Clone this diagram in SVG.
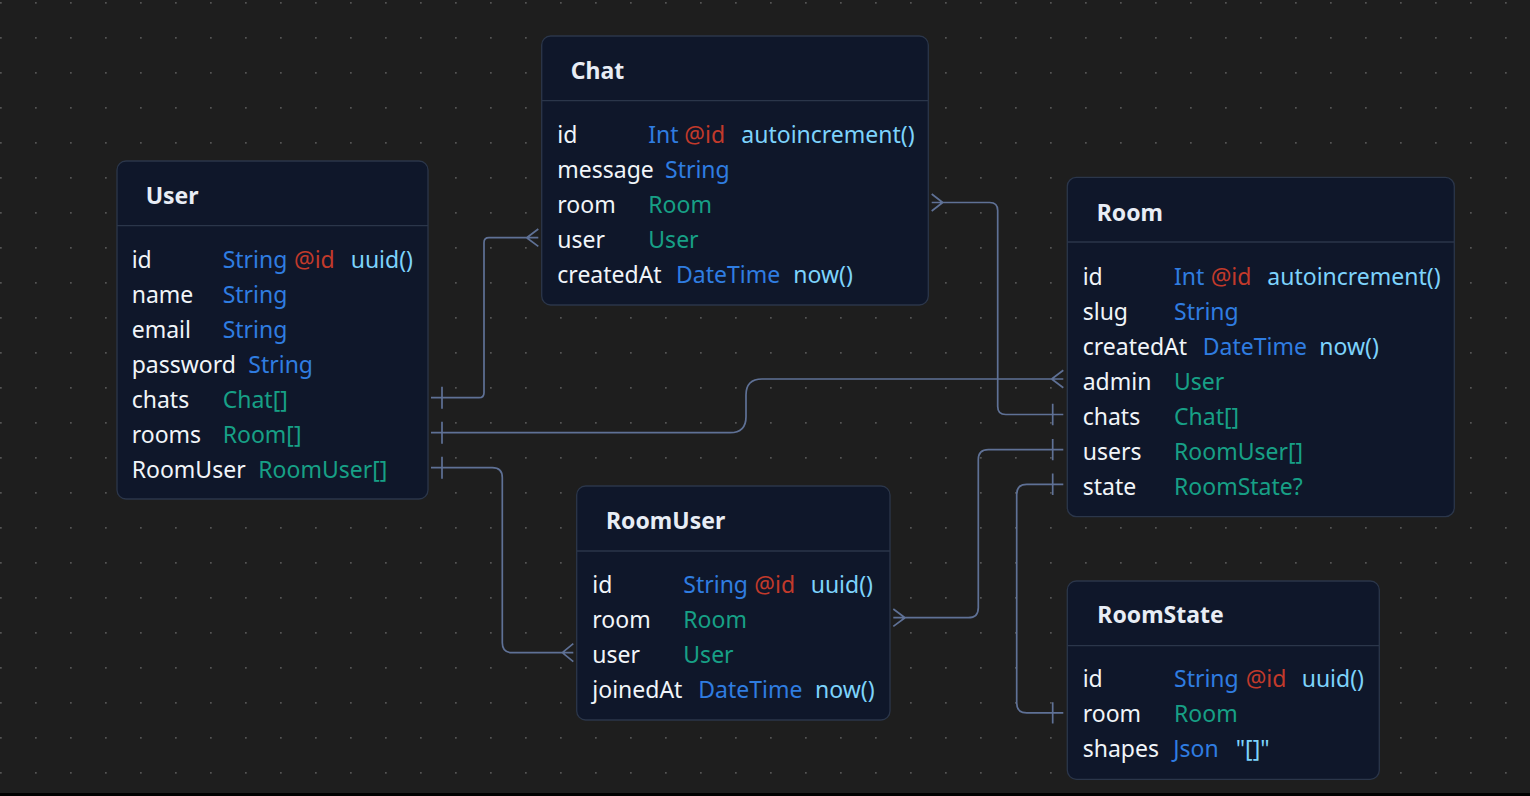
<svg xmlns="http://www.w3.org/2000/svg" width="1530" height="796" viewBox="0 0 1530 796">
<style>
.box{fill:#0f172a;stroke:#2b364a;stroke-width:1.3}
.hl{stroke:#2b364a;stroke-width:1.3}
text{font-family:"Noto Sans","Open Sans","Liberation Sans",sans-serif;font-size:23px}
.t{font-weight:bold;font-size:23px;fill:#e8edf5}
.n{fill:#f1f5f9}
.ty{fill:#2f7de1}
.at{fill:#c23a2b}
.df{fill:#7dd3fc}
.rl{fill:#17a086}
.c{fill:none;stroke:#5f7196;stroke-width:1.7}
</style>
<defs>
<pattern id="dots" x="0" y="0" width="35" height="35" patternUnits="userSpaceOnUse">
<rect x="0" y="2" width="1.7" height="1.7" fill="#555"/>
</pattern>
</defs>
<rect width="1530" height="796" fill="#1e1e1e"/>
<rect width="1530" height="796" fill="url(#dots)"/>
<rect y="793" width="1530" height="3" fill="#000"/>

<g id="connectors">
<path class="c" d="M431 397.7 H479 Q484 397.7 484 392.7 V242.7 Q484 237.7 489 237.7 H538.3 M526.7 237.7 L538.3 229 M526.7 237.7 L538.3 246.4 M442 386.7 V408.7"/>
<path class="c" d="M431 432.7 H730 Q746 432.7 746 416.7 V395 Q746 379 762 379 H1063.3 M1051.7 379 L1063.3 370.3 M1051.7 379 L1063.3 387.7 M442 421.7 V443.7"/>
<path class="c" d="M431 467.7 H492.3 Q502.3 467.7 502.3 477.7 V642.7 Q502.3 652.7 512.3 652.7 H573.3 M562.3 652.7 L573.3 643.7 M562.3 652.7 L573.3 661.7 M442 456.7 V478.7"/>
<path class="c" d="M931.7 202.5 H989.7 Q997.7 202.5 997.7 210.5 V406.5 Q997.7 414.5 1005.7 414.5 H1063.3 M942.7 202.5 L931.7 194 M942.7 202.5 L931.7 211 M1052.7 403.8 V425.2"/>
<path class="c" d="M1063.3 449.6 H988.3 Q978.3 449.6 978.3 459.6 V607.7 Q978.3 617.7 968.3 617.7 H893.3 M905 617.7 L893.3 609 M905 617.7 L893.3 626.4 M1052.7 438.9 V460.3"/>
<path class="c" d="M1063.3 484.3 H1026.7 Q1016.7 484.3 1016.7 494.3 V702.9 Q1016.7 712.9 1026.7 712.9 H1063.3 M1052.7 473.6 V495 M1052.7 702.2 V723.6"/>
</g>

<g id="User">
<rect class="box" x="117" y="161" width="311" height="338" rx="9"/>
<line class="hl" x1="117" y1="225.7" x2="428" y2="225.7"/>
<text class="t" x="145.7" y="204">User</text>
<text class="n" x="131.7" y="267.7">id</text><text class="ty" x="222.7" y="267.7">String</text><text class="at" x="294" y="267.7">@id</text><text class="df" x="350.7" y="267.7">uuid()</text>
<text class="n" x="131.7" y="302.7">name</text><text class="ty" x="222.7" y="302.7">String</text>
<text class="n" x="131.7" y="337.7">email</text><text class="ty" x="222.7" y="337.7">String</text>
<text class="n" x="131.7" y="372.7">password</text><text class="ty" x="248.3" y="372.7">String</text>
<text class="n" x="131.7" y="407.7">chats</text><text class="rl" x="222.7" y="407.7">Chat[]</text>
<text class="n" x="131.7" y="442.7">rooms</text><text class="rl" x="222.7" y="442.7">Room[]</text>
<text class="n" x="131.7" y="477.7">RoomUser</text><text class="rl" x="258.3" y="477.7">RoomUser[]</text>
</g>

<g id="Chat">
<rect class="box" x="541.7" y="36" width="386.6" height="269" rx="9"/>
<line class="hl" x1="541.7" y1="100.7" x2="928.3" y2="100.7"/>
<text class="t" x="570.7" y="79">Chat</text>
<text class="n" x="557.3" y="142.7">id</text><text class="ty" x="648.3" y="142.7">Int</text><text class="at" x="684.3" y="142.7">@id</text><text class="df" x="741.3" y="142.7">autoincrement()</text>
<text class="n" x="557.3" y="177.7">message</text><text class="ty" x="665" y="177.7">String</text>
<text class="n" x="557.3" y="212.7">room</text><text class="rl" x="648.3" y="212.7">Room</text>
<text class="n" x="557.3" y="247.7">user</text><text class="rl" x="648.3" y="247.7">User</text>
<text class="n" x="557.3" y="282.7">createdAt</text><text class="ty" x="676" y="282.7">DateTime</text><text class="df" x="793.3" y="282.7">now()</text>
</g>

<g id="Room">
<rect class="box" x="1067.3" y="177.3" width="387" height="339.4" rx="9"/>
<line class="hl" x1="1067.3" y1="242" x2="1454.3" y2="242"/>
<text class="t" x="1096.7" y="221">Room</text>
<text class="n" x="1082.7" y="285">id</text><text class="ty" x="1174" y="285">Int</text><text class="at" x="1210.7" y="285">@id</text><text class="df" x="1267.3" y="285">autoincrement()</text>
<text class="n" x="1082.7" y="320">slug</text><text class="ty" x="1174" y="320">String</text>
<text class="n" x="1082.7" y="355">createdAt</text><text class="ty" x="1202.7" y="355">DateTime</text><text class="df" x="1319.3" y="355">now()</text>
<text class="n" x="1082.7" y="390">admin</text><text class="rl" x="1174" y="390">User</text>
<text class="n" x="1082.7" y="425">chats</text><text class="rl" x="1174" y="425">Chat[]</text>
<text class="n" x="1082.7" y="460">users</text><text class="rl" x="1174" y="460">RoomUser[]</text>
<text class="n" x="1082.7" y="495">state</text><text class="rl" x="1174" y="495">RoomState?</text>
</g>

<g id="RoomUser">
<rect class="box" x="576.7" y="486" width="313.3" height="234" rx="9"/>
<line class="hl" x1="576.7" y1="551" x2="890" y2="551"/>
<text class="t" x="606" y="529">RoomUser</text>
<text class="n" x="592.3" y="593.3">id</text><text class="ty" x="683.3" y="593.3">String</text><text class="at" x="754.3" y="593.3">@id</text><text class="df" x="810.7" y="593.3">uuid()</text>
<text class="n" x="592.3" y="628.3">room</text><text class="rl" x="683.3" y="628.3">Room</text>
<text class="n" x="592.3" y="663.3">user</text><text class="rl" x="683.3" y="663.3">User</text>
<text class="n" x="592.3" y="698.3">joinedAt</text><text class="ty" x="698.3" y="698.3">DateTime</text><text class="df" x="815" y="698.3">now()</text>
</g>

<g id="RoomState">
<rect class="box" x="1067.3" y="581" width="312" height="198.3" rx="9"/>
<line class="hl" x1="1067.3" y1="645.7" x2="1379.3" y2="645.7"/>
<text class="t" x="1097.3" y="623.3">RoomState</text>
<text class="n" x="1082.7" y="687.3">id</text><text class="ty" x="1174" y="687.3">String</text><text class="at" x="1245.7" y="687.3">@id</text><text class="df" x="1301.7" y="687.3">uuid()</text>
<text class="n" x="1082.7" y="722.3">room</text><text class="rl" x="1174" y="722.3">Room</text>
<text class="n" x="1082.7" y="757.3">shapes</text><text class="ty" x="1173.3" y="757.3">Json</text><text class="df" x="1235.7" y="757.3">"[]"</text>
</g>
</svg>
